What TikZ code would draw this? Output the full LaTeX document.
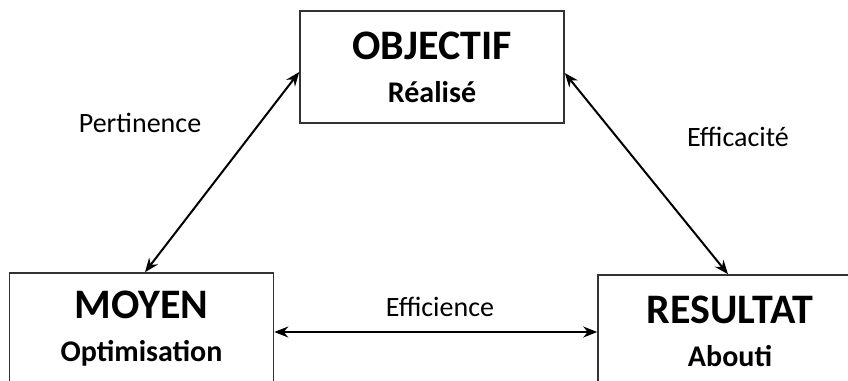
\documentclass[tikz,border=0pt]{standalone}
\usepackage{fontspec}
\setmainfont{Carlito}
\definecolor{boxgray}{RGB}{50, 50, 50}
\usepackage{tikz}
\usetikzlibrary{arrows.meta, positioning}

\begin{document}
\begin{tikzpicture}[x=1pt, y=-1pt,
    pole/.style={draw=boxgray, line width=1.6pt, minimum width=264pt, minimum height=112pt,
      align=center, inner sep=0pt, font=\fontsize{30}{43}\selectfont\bfseries},
    link/.style={{Stealth[length=14pt,width=11pt]}-{Stealth[length=14pt,width=11pt]}, line width=2pt},
    lbl/.style={font=\fontsize{28}{32}\selectfont}]
  \useasboundingbox (0,0) rectangle (848,380);
  % les trois poles
  \node[pole] (objectif) at (432,67) {{\fontsize{42}{43}\selectfont OBJECTIF}\\Réalisé};
  \node[pole] (moyen) at (141.5,329) {{\fontsize{42}{43}\selectfont MOYEN}\\Optimisation};
  \node[pole] (resultat) at (730,331) {{\fontsize{42}{43}\selectfont RESULTAT}\\Abouti};
  % liens
  \draw[link] ([yshift=-5pt]objectif.west) -- ([xshift=3.5pt]moyen.north);
  \draw[link] ([yshift=-6pt]objectif.east) -- ([xshift=-2pt]resultat.north);
  \draw[link] ([yshift=-3pt]moyen.east) -- ([yshift=-1pt]resultat.west);
  \node[lbl] (pertinence) at (140,123) {Pertinence};
  \node[lbl] (efficacite) at (738,137) {Efficacité};
  \node[lbl] (efficience) at (440,307) {Efficience};
\end{tikzpicture}
\end{document}
